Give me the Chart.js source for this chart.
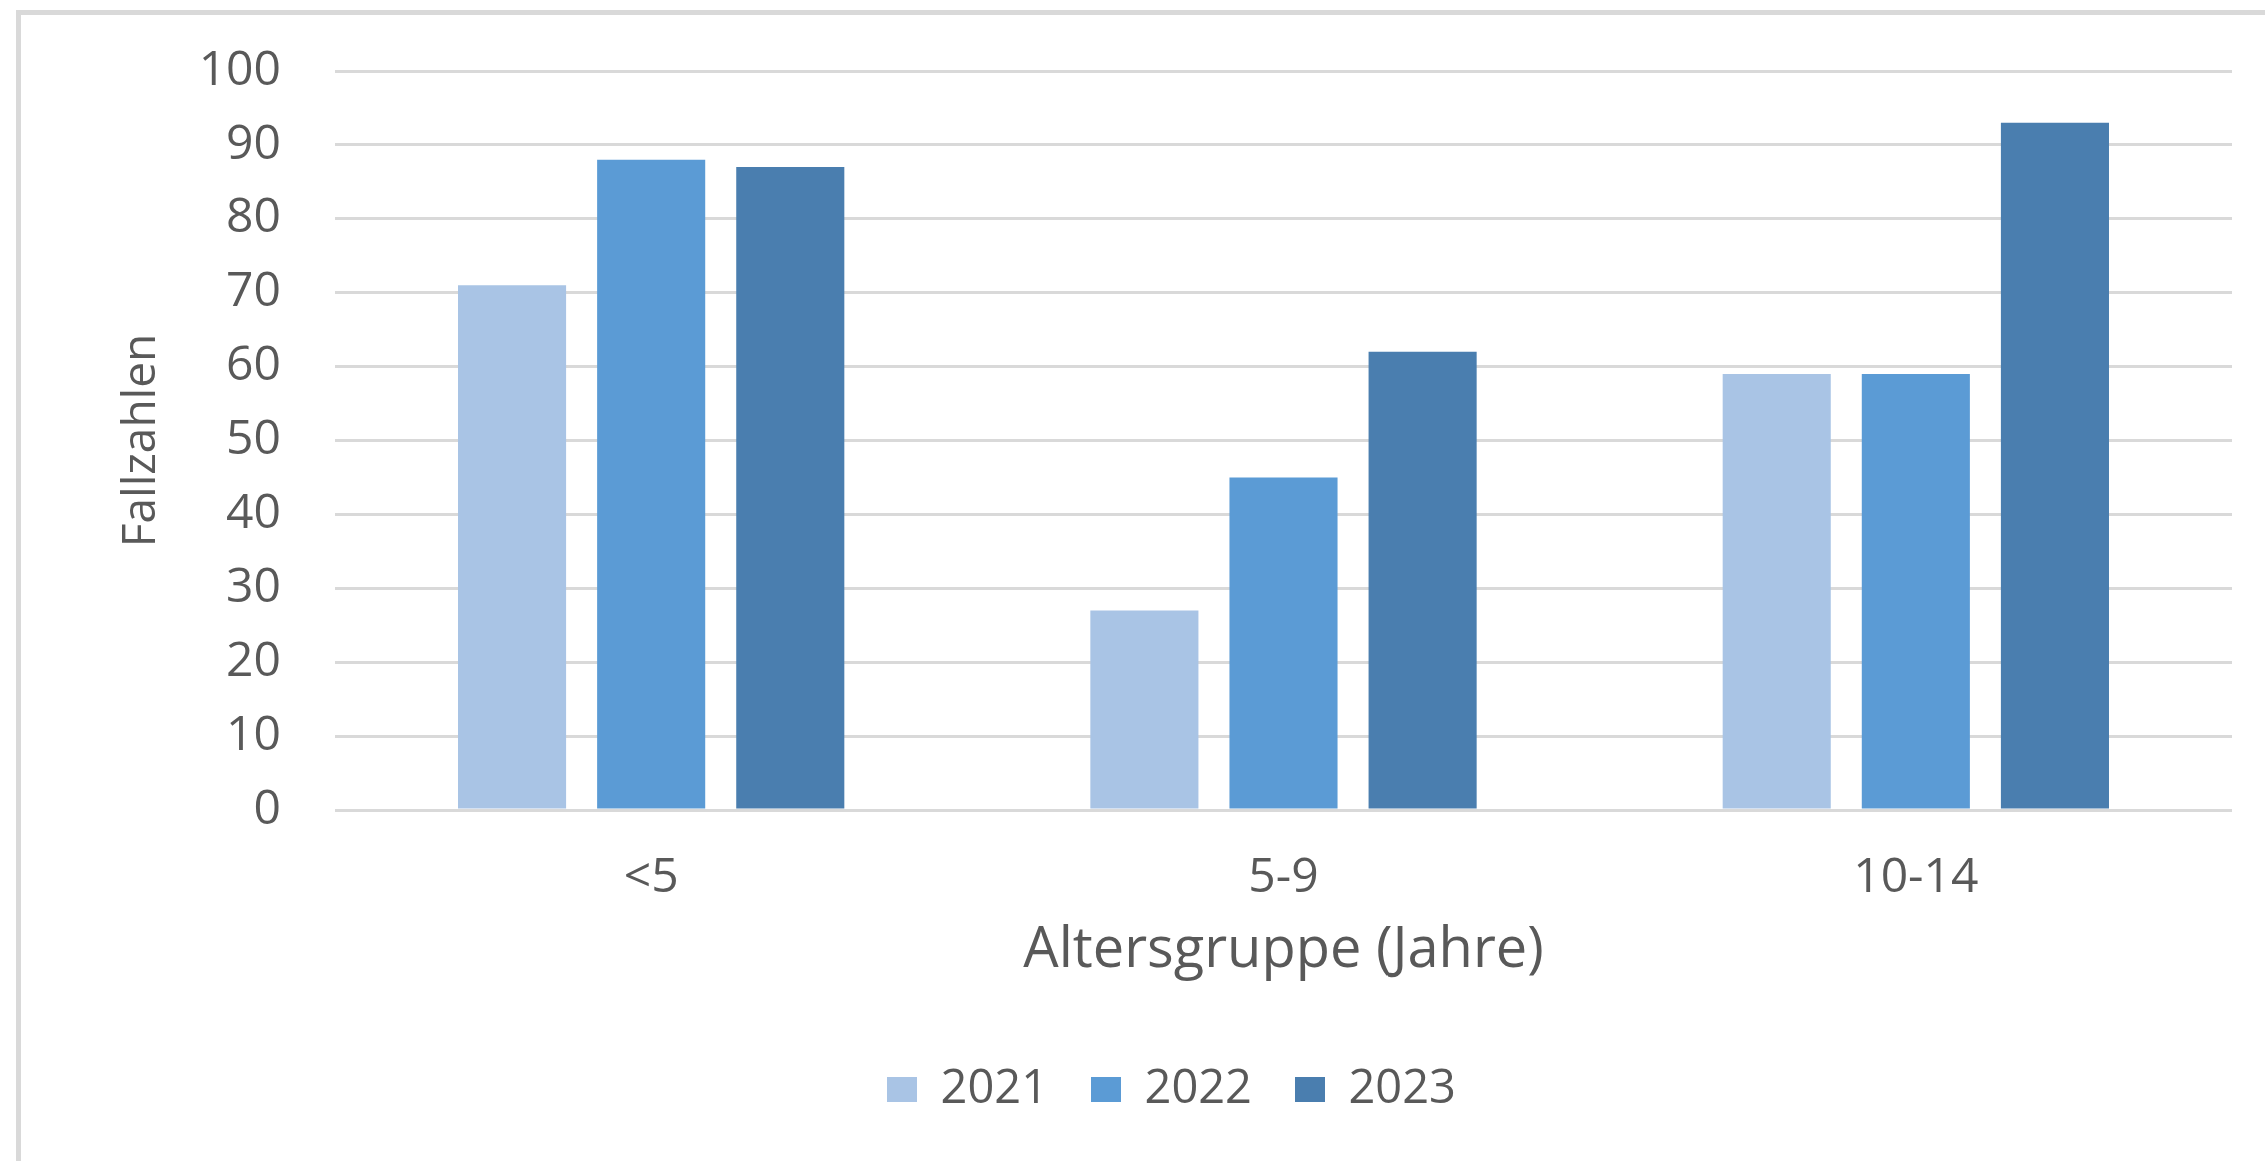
<!DOCTYPE html>
<html lang="de">
<head>
    <meta charset="UTF-8">
    <title>Fallzahlen nach Altersgruppe</title>
    <script src="https://cdn.jsdelivr.net/npm/chart.js"></script>
    <style>
        html, body {
            margin: 0;
            padding: 0;
            background: #ffffff;
        }

        .wrap {
            position: relative;
            width: 2265px;
            height: 1161px;
            overflow: hidden;
        }

        /* grey frame, only top and left edges are visible in the original */
        .frame {
            position: absolute;
            left: 16px;
            top: 10px;
            width: 2300px;
            height: 1200px;
            border-left: 5px solid #d9d9d9;
            border-top: 5px solid #d9d9d9;
        }

        #chart {
            position: absolute;
            left: 0;
            top: 0;
        }
    </style>
</head>
<body>
    <div class="wrap">
        <div class="frame"></div>
        <canvas id="chart" width="2265" height="1161"></canvas>
    </div>

    <script>
        const ageGroups = ['<5', '5-9', '10-14'];
        const years = ['2021', '2022', '2023'];
        const cases2021 = [71, 27, 59];
        const cases2022 = [88, 45, 59];
        const cases2023 = [87, 62, 93];
        const yearColors = ['#a9c4e5', '#5b9bd5', '#4a7eaf'];

        const textColor = '#595959';
        const gridColor = '#d9d9d9';
        const fontFamily = '"Open Sans", "Noto Sans", sans-serif';

        const seriesValues = [cases2021, cases2022, cases2023];
        const datasets = years.map((year, i) => ({
            label: year,
            data: seriesValues[i],
            backgroundColor: yearColors[i],
            borderWidth: 0,
            categoryPercentage: 0.66,
            barPercentage: 0.777
        }));

        new Chart(document.getElementById('chart'), {
            type: 'bar',
            data: {
                labels: ageGroups,
                datasets: datasets
            },
            options: {
                responsive: false,
                animation: false,
                devicePixelRatio: 1,
                layout: {
                    padding: { top: 71, left: 111, right: 33, bottom: 38 }
                },
                plugins: {
                    legend: {
                        position: 'bottom',
                        labels: {
                            color: textColor,
                            font: { family: fontFamily, size: 47 },
                            boxWidth: 30,
                            boxHeight: 25,
                            padding: 43
                        }
                    },
                    tooltip: { enabled: false }
                },
                scales: {
                    x: {
                        grid: { display: false, drawTicks: false },
                        border: { display: false },
                        ticks: {
                            color: textColor,
                            font: { family: fontFamily, size: 48 },
                            padding: 40
                        },
                        title: {
                            display: true,
                            text: 'Altersgruppe (Jahre)',
                            color: textColor,
                            font: { family: fontFamily, size: 56 },
                            padding: { top: 0, bottom: 38 }
                        },
                        afterFit: scale => { scale.height = 213; }
                    },
                    y: {
                        min: 0,
                        max: 100,
                        grid: { color: gridColor, lineWidth: 3, drawTicks: false },
                        border: { display: false },
                        ticks: {
                            stepSize: 10,
                            color: textColor,
                            font: { family: fontFamily, size: 48 },
                            padding: 54
                        },
                        title: {
                            display: true,
                            text: 'Fallzahlen',
                            color: textColor,
                            font: { family: fontFamily, size: 46 },
                            padding: { top: 3, bottom: 0 }
                        },
                        afterFit: scale => {
                            scale.width = 224;
                            // tick padding should not push the plot top down
                            scale.paddingTop = 30;
                            scale.paddingBottom = 30;
                        }
                    }
                }
            }
        });
    </script>
</body>
</html>
